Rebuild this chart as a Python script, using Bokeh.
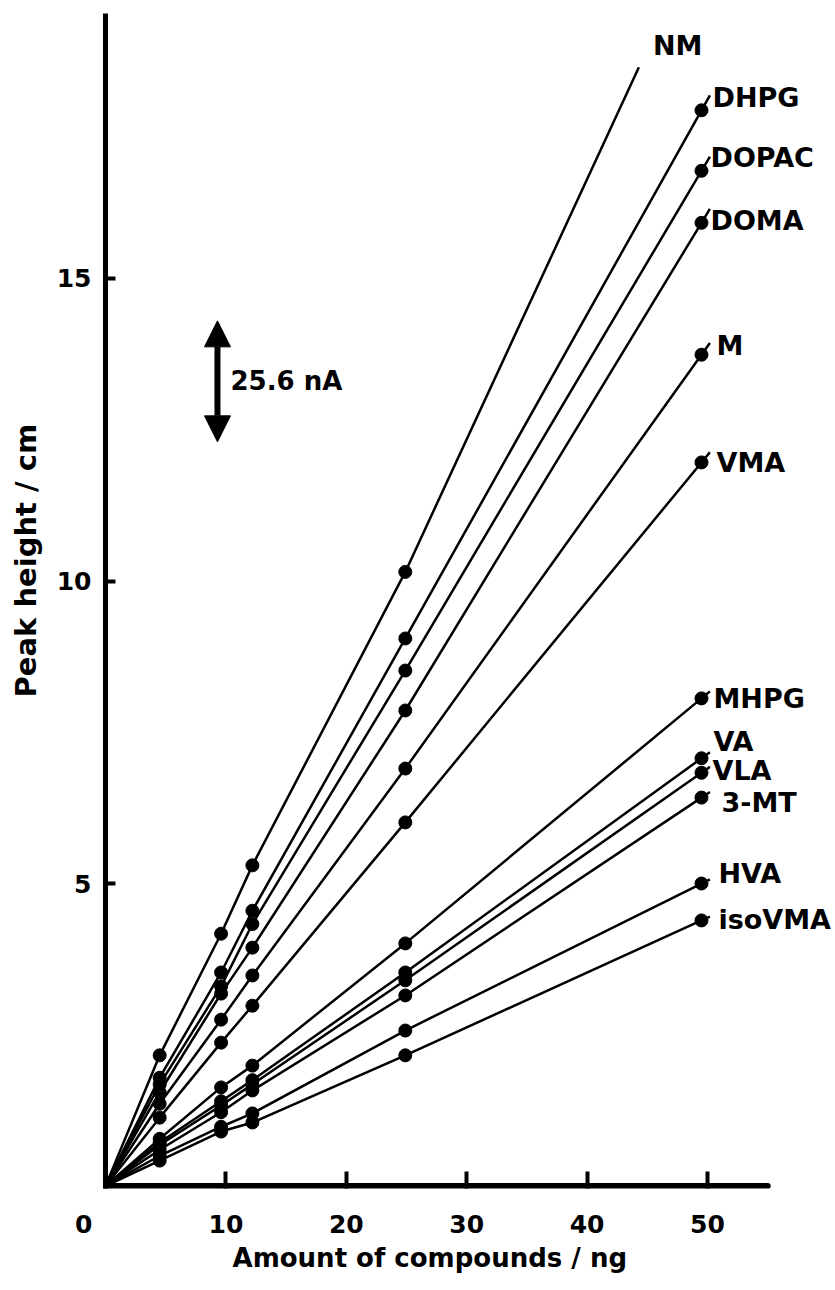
from bokeh.plotting import figure
from bokeh.models import (ColumnDataSource, FixedTicker, Label, LabelSet, Arrow,
                          NormalHead, Range1d)
from bokeh.core.properties import value
from bokeh.embed import file_html
from bokeh.resources import INLINE

# Injected amount of each standard (ng) and peak heights (cm)
amount_ng = [4.5, 9.6, 12.2, 24.9, 49.5]

compounds = ["NM", "DHPG", "DOPAC", "DOMA", "M", "VMA",
             "MHPG", "VA", "VLA", "3-MT", "HVA", "isoVMA"]

nm     = [2.16, 4.17, 5.30, 10.15]          # 50 ng peak is off scale
dhpg   = [1.79, 3.53, 4.55, 9.05, 17.78]
dopac  = [1.68, 3.30, 4.33, 8.52, 16.78]
doma   = [1.55, 3.18, 3.94, 7.86, 15.92]
m      = [1.36, 2.75, 3.48, 6.90, 13.74]
vma    = [1.13, 2.37, 2.98, 6.01, 11.96]
mhpg   = [0.78, 1.63, 1.99, 4.01, 8.06]
va     = [0.72, 1.40, 1.75, 3.53, 7.07]
vla    = [0.68, 1.33, 1.68, 3.40, 6.83]
mt3    = [0.60, 1.22, 1.58, 3.15, 6.42]
hva    = [0.50, 0.98, 1.20, 2.57, 5.00]
isovma = [0.42, 0.90, 1.05, 2.16, 4.39]

series = [nm, dhpg, dopac, doma, m, vma, mhpg, va, vla, mt3, hva, isovma]

# NM calibration line continues up to this point (ng, cm)
nm_line_end = (44.3, 18.49)

# Scale bar: 2 cm of peak height corresponds to 25.6 nA
scale_bar_cm = 2.0
scale_bar_text = "25.6 nA"

x_ticks = [0, 10, 20, 30, 40, 50]
y_ticks = [5, 10, 15]
x_axis_end = 55

FONT = "DejaVu Sans"
INK = "#000000"
NBSP = "\u00a0"

# frame spans from the y axis to the right edge of the page so that the
# compound names beyond the last points are not clipped
p = figure(width=835, height=1290,
           x_range=Range1d(0, 60.63), y_range=Range1d(-0.041, 19.38),
           output_backend="svg", toolbar_location=None,
           min_border_left=105, min_border_right=0,
           min_border_top=13, min_border_bottom=102)

p.background_fill_color = "white"
p.border_fill_color = "white"
p.outline_line_color = None
p.xgrid.visible = False
p.ygrid.visible = False

for ax in (p.xaxis[0], p.yaxis[0]):
    ax.axis_line_width = 5
    ax.axis_line_color = INK
    ax.major_tick_line_width = 4
    ax.major_tick_line_color = INK
    ax.major_tick_out = 0
    ax.minor_tick_line_color = None
    ax.major_label_text_font = FONT
    ax.major_label_text_font_style = "bold"
    ax.major_label_text_font_size = "25px"
    ax.major_label_text_color = INK
    ax.axis_label_text_font = FONT
    ax.axis_label_text_font_style = "bold"
    ax.axis_label_text_color = INK

p.xaxis.ticker = FixedTicker(ticks=x_ticks)
p.yaxis.ticker = FixedTicker(ticks=y_ticks)
# the shared origin label sits a little left of the corner
p.xaxis.major_label_overrides = {0: "0" + NBSP * 5}
p.xaxis.axis_line_color = None          # drawn below, stopping at 55 ng
p.xaxis.major_tick_in = 17
p.yaxis.major_tick_in = 10
p.xaxis.major_label_standoff = 21
p.yaxis.major_label_standoff = 14
# titles centred on the 0-55 ng / 0-19 cm axis extent rather than the frame
p.xaxis.axis_label = "Amount of compounds / ng" + NBSP * 9
p.yaxis.axis_label = NBSP * 8 + "Peak height / cm"
p.xaxis.axis_label_text_font_size = "26px"
p.yaxis.axis_label_text_font_size = "29px"
p.xaxis.axis_label_standoff = 1
p.yaxis.axis_label_standoff = 11

# x axis line
p.segment(x0=[0], y0=[0], x1=[x_axis_end], y1=[0], line_color=INK,
          line_width=6, line_cap="round")

# calibration lines through the origin, with a short run past the last point
tail_ng = 0.7
end_x, end_y, dot_x, dot_y = [], [], [], []
for name, vals in zip(compounds, series):
    xs = [0.0] + amount_ng[:len(vals)]
    ys = [0.0] + list(vals)
    dot_x.append(xs[-1])
    dot_y.append(ys[-1])
    if name == "NM":
        xs.append(nm_line_end[0])
        ys.append(nm_line_end[1])
    else:
        k = (ys[-1] - ys[-2]) / (xs[-1] - xs[-2])
        xs.append(xs[-1] + tail_ng)
        ys.append(vals[-1] + k * tail_ng)
    p.line(xs, ys, line_color=INK, line_width=2.5)
    p.scatter(amount_ng[:len(vals)], vals, size=13, marker="circle",
              fill_color=INK, line_color=INK)
    end_x.append(xs[-1])
    end_y.append(ys[-1])

# names sit beside the 50 ng point (NM: beside the line end); offsets in px
anchor_x = [end_x[0]] + dot_x[1:]
anchor_y = [end_y[0]] + dot_y[1:]
dx_px = [14, 11, 9, 9, 15, 15, 12, 12, 11, 20, 17, 17]
dy_px = [22, 13, 13, 2, 9, 0, 0, 17, 2, -5, 10, 1]

lab_src = ColumnDataSource(dict(x=anchor_x, y=anchor_y, text=compounds,
                                xo=dx_px, yo=dy_px))
p.add_layout(LabelSet(x="x", y="y", text="text", source=lab_src,
                      x_offset="xo", y_offset="yo",
                      text_align="left", text_baseline="middle",
                      text_font=value(FONT), text_font_style="bold",
                      text_font_size="27px", text_color=INK))

# 25.6 nA scale bar
bar_x, bar_mid = 9.3, 13.3
p.add_layout(Arrow(x_start=bar_x, y_start=bar_mid - scale_bar_cm / 2,
                   x_end=bar_x, y_end=bar_mid + scale_bar_cm / 2,
                   line_width=6, line_color=INK,
                   start=NormalHead(size=26, fill_color=INK, line_color=INK, line_width=1),
                   end=NormalHead(size=26, fill_color=INK, line_color=INK, line_width=1)))
p.add_layout(Label(x=bar_x, y=bar_mid, text=scale_bar_text, x_offset=13,
                   text_align="left", text_baseline="middle",
                   text_font=FONT, text_font_style="bold",
                   text_font_size="26px", text_color=INK))

open("out.html", "w").write(file_html(p, INLINE))
